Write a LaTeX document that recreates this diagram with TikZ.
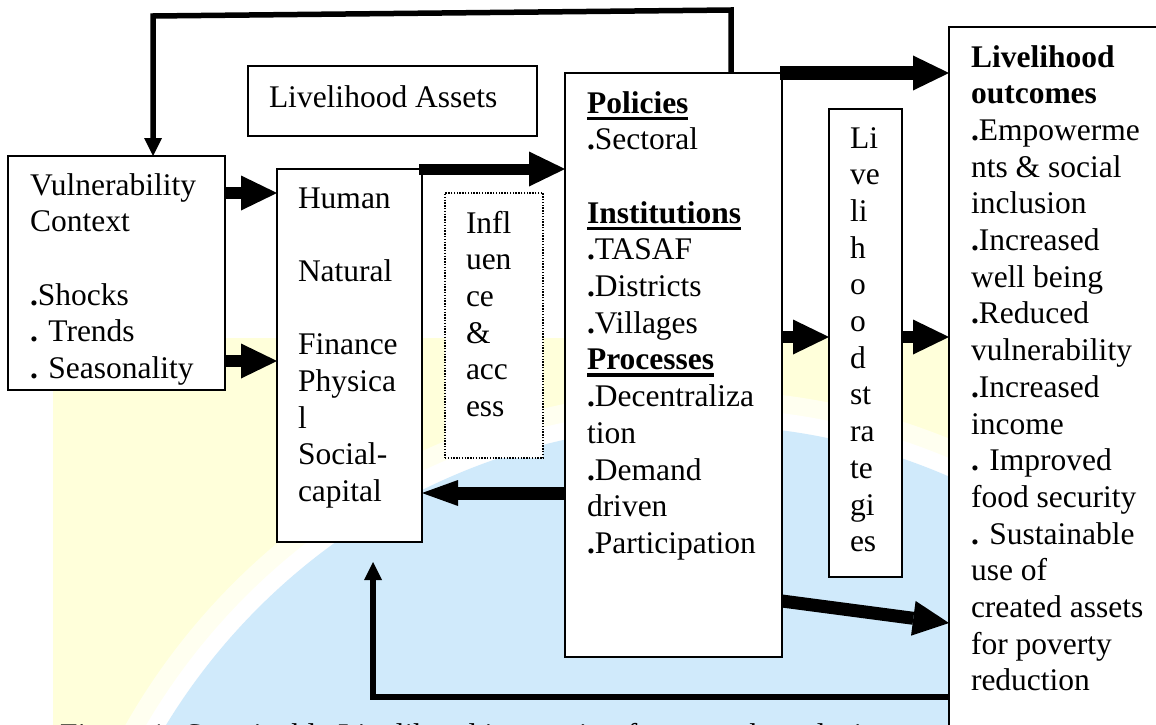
\documentclass[tikz,border=0pt]{standalone}
\usepackage{fontspec}
\setmainfont{Liberation Serif}
\usetikzlibrary{arrows.meta,calc}
\definecolor{bgyellow}{RGB}{255,255,218}
\definecolor{globeblue}{RGB}{208,234,251}
\newcommand{\myul}[1]{\setbox0\hbox{#1}\rlap{\rule[-7pt]{\wd0}{3.5pt}}\box0}
\newcommand{\bp}{\textbf{.}}
\newcommand{\fs}{\rule{0pt}{25pt}}
\begin{document}
\begin{tikzpicture}[x=1pt,y=-1pt,
  box/.style={draw, line width=1.6pt, fill=white, inner sep=0pt, outer sep=0pt, anchor=north west},
  txt/.style={anchor=north west, inner sep=0pt, outer sep=0pt, align=left, font=\fontsize{31.5}{36.7}\selectfont},
  blk/.style={line width=12pt, -{Triangle[length=36pt,width=35pt,line width=0pt]}},
  fb/.style={line width=5.5pt, line join=miter, -{Triangle[length=18pt,width=18pt,line width=0pt]}}]
\useasboundingbox (0,0) rectangle (1156,725);
\clip (0,0) rectangle (1156,725);
% background
\fill[bgyellow] (53,338) rectangle (1156,725);
\fill[white,opacity=0.6] (700,1050) circle[radius=660pt];
\fill[white] (700,1050) circle[radius=642pt];
\fill[globeblue] (700,1050) circle[radius=625pt];
% caption (cut off by the page edge, as in the reference)
\node[txt] (cap) at (60,720) {\fs Figure 1: Sustainable Livelihood interaction framework analysis};
% boxes
\node[box, minimum width=289pt, minimum height=70pt] (assets) at (248,66) {};
\node[box, minimum width=217pt, minimum height=234pt] (vul) at (8,156) {};
\node[box, minimum width=145pt, minimum height=373pt] (human) at (277,169) {};
\node[box, dash pattern=on 1.4pt off 1.4pt, line width=1.4pt, minimum width=98pt, minimum height=265pt] (infl) at (445,193) {};
\node[box, minimum width=217pt, minimum height=584pt] (pol) at (565,73) {};
\node[box, minimum width=73pt, minimum height=468pt] (strat) at (829,109) {};
% feedback loops
\coordinate (tA) at (731,10);
\coordinate (tB) at (153,16);
\draw[fb] ([xshift=166pt]pol.north west) -- (tA) -- (tB) -- ([xshift=145pt]vul.north west);
\node[box, minimum width=240pt, minimum height=740pt] (out) at (949,27) {};
\coordinate (bA) at (373,697);
\coordinate (bB) at (373,562);
\draw[fb] ([yshift=-670pt]out.north west) -- (bA) -- (bB);
% block arrows
\draw[blk] ([yshift=-37pt]vul.north east) -- ([yshift=-24pt]human.north west);
\draw[blk] ([yshift=-205pt]vul.north east) -- ([yshift=-192pt]human.north west);
\draw[blk, line width=11pt] ([xshift=-3pt]human.north east) -- ([yshift=-96pt]pol.north west);
\draw[line width=13pt, -{Triangle[length=36pt,width=26pt,line width=0pt]}] ([yshift=-420pt]pol.north west) -- ([yshift=-324pt]human.north east);
\draw[blk, line width=13pt] ([xshift=-2pt]pol.north east) -- ([yshift=-46pt]out.north west);
\draw[blk] ([yshift=-264pt]pol.north east) -- ([yshift=-228pt]strat.north west);
\draw[blk] ([yshift=-228pt]strat.north east) -- ([yshift=-310pt]out.north west);
\draw[blk, line width=13pt] ([yshift=-528pt]pol.north east) -- ([yshift=-596pt]out.north west);
% texts
\node[txt] (tAss) at (269,82) {\fs Livelihood Assets};
\node[txt] (tVul) at (30,170) {\fs Vulnerability\\Context\\\mbox{}\\\bp Shocks\\\bp{} Trends\\\bp{} Seasonality};
\node[txt] (tHum) at (298,183) {\fs Human\\\mbox{}\\Natural\\\mbox{}\\Finance\\Physica\\l\\Social-\\capital};
\node[txt] (tInf) at (466,208) {\fs Infl\\uen\\ce\\\&\\acc\\ess};
\node[txt] (tPol) at (587,88) {\fs\myul{\textbf{Policies}}\\\bp Sectoral\\\mbox{}\\\myul{\textbf{Institutions}}\\\bp TASAF\\\bp Districts\\\bp Villages\\\myul{\textbf{Processes}}\\\bp Decentraliza\\tion\\\bp Demand\\driven\\\bp Participation};
\node[txt] (tStr) at (850,123) {\fs Li\\ve\\li\\h\\o\\o\\d\\st\\ra\\te\\gi\\es};
\node[txt] (tOut) at (971,42) {\fs\textbf{Livelihood}\\\textbf{outcomes}\\\bp Empowerme\\nts \& social\\inclusion\\\bp Increased\\well being\\\bp Reduced\\vulnerability\\\bp Increased\\income\\\bp{} Improved\\food security\\\bp{} Sustainable\\use of\\created assets\\for poverty\\reduction};
\end{tikzpicture}
\end{document}
